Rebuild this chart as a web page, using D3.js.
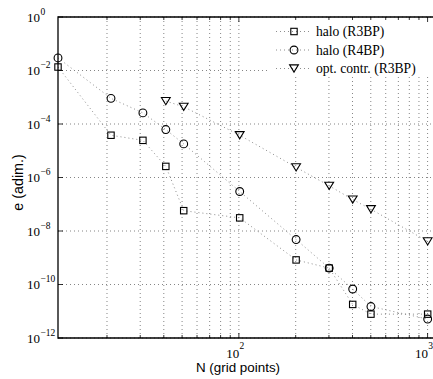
<!DOCTYPE html>
<html><head><meta charset="utf-8">
<script src="https://cdn.jsdelivr.net/npm/d3@7"></script>
<style>body{margin:0;background:#fff}svg{display:block}</style>
</head><body>
<svg id="c" width="433" height="379"></svg>
<script>
// ---- data ----
const nHalo = [11, 21, 31, 41, 51, 101, 201, 301, 401, 501, 1001];
const eHaloR3BP = [1.35e-2, 3.8e-5, 2.45e-5, 2.6e-6, 5.75e-8, 3.1e-8, 8.3e-10, 4.1e-10, 1.8e-11, 7.8e-12, 7.8e-12];
const eHaloR4BP = [2.95e-2, 9.1e-4, 2.6e-4, 6.2e-5, 1.8e-5, 3.0e-7, 4.8e-9, 4.1e-10, 6.8e-11, 1.5e-11, 5.1e-12];
const nOpt = [41, 51, 101, 201, 301, 401, 501, 1001];
const eOptR3BP = [7.2e-4, 4.4e-4, 3.8e-5, 2.4e-6, 4.9e-7, 1.5e-7, 6.5e-8, 4.1e-9];
const seriesNames = ["halo (R3BP)", "halo (R4BP)", "opt. contr. (R3BP)"];
const yTickExps = [0, -2, -4, -6, -8, -10, -12];
const xTickExps = [2, 3];
const xMinor = [20,30,40,50,60,70,80,90,200,300,400,500,600,700,800,900];
const xLabel = "N (grid points)";
const yLabel = "e (adim.)";

// ---- layout ----
const L = 58, T = 17, B = 338, R = 435.4;
const svg = d3.select("#c");
const x = d3.scaleLog().domain([11, 1100]).range([L, R]);
const y = d3.scaleLog().domain([1e-12, 1]).range([B, T]);

const gridColor = "#666";
const g = svg.append("g");
// grid
xMinor.concat(xTickExps.map(e => Math.pow(10, e))).forEach(v => {
  g.append("line").attr("x1", x(v)).attr("x2", x(v)).attr("y1", T).attr("y2", B)
   .attr("stroke", gridColor).attr("stroke-width", 0.8).attr("stroke-dasharray", "1,3");
});
yTickExps.forEach(e => {
  const v = Math.pow(10, e);
  g.append("line").attr("x1", L).attr("x2", R).attr("y1", y(v)).attr("y2", y(v))
   .attr("stroke", gridColor).attr("stroke-width", 0.8).attr("stroke-dasharray", "1,3");
});

// series
const series = [
  {n: nHalo, e: eHaloR3BP, m: "square"},
  {n: nHalo, e: eHaloR4BP, m: "circle"},
  {n: nOpt, e: eOptR3BP, m: "tri"}
];
function marker(sel, type, cx, cy) {
  if (type === "square") {
    sel.append("rect").attr("x", cx - 3.2).attr("y", cy - 3.2).attr("width", 6.4).attr("height", 6.4)
      .attr("fill", "none").attr("stroke", "#000").attr("stroke-width", 1.1);
  } else if (type === "circle") {
    sel.append("circle").attr("cx", cx).attr("cy", cy).attr("r", 3.9)
      .attr("fill", "none").attr("stroke", "#000").attr("stroke-width", 1.1);
  } else {
    sel.append("path").attr("d", `M${cx-4.4},${cy-3.6}L${cx+4.4},${cy-3.6}L${cx},${cy+3.6}Z`)
      .attr("fill", "none").attr("stroke", "#000").attr("stroke-width", 1.1);
  }
}
const line = d3.line().x(d => x(d[0])).y(d => y(d[1]));
series.forEach(s => {
  const pts = s.n.map((n, i) => [n, s.e[i]]);
  g.append("path").attr("d", line(pts)).attr("fill", "none")
   .attr("stroke", "#808080").attr("stroke-width", 0.9).attr("stroke-dasharray", "1,3");
});
series.forEach(s => {
  s.n.forEach((n, i) => marker(g, s.m, x(n), y(s.e[i])));
});

// legend
g.append("rect").attr("x", 268).attr("y", T + 1).attr("width", 163).attr("height", 59).attr("fill", "#fff");
const legY = [31.5, 50, 68.5];
series.forEach((s, i) => {
  g.append("line").attr("x1", 276).attr("x2", 312).attr("y1", legY[i]).attr("y2", legY[i])
   .attr("stroke", "#808080").attr("stroke-width", 0.9).attr("stroke-dasharray", "1,3");
  marker(g, s.m, 294, legY[i]);
  g.append("text").attr("x", 316).attr("y", legY[i] + 4.6).text(seriesNames[i])
   .attr("font-family", "Liberation Serif").attr("font-size", 13.6).attr("fill", "#000");
});

// axes box & ticks
g.append("path").attr("d", `M${R},${T}H${L}V${B}H${R}`).attr("fill", "none")
 .attr("stroke", "#000").attr("stroke-width", 1.3);
xMinor.forEach(v => {
  g.append("line").attr("x1", x(v)).attr("x2", x(v)).attr("y1", B).attr("y2", B - 3).attr("stroke", "#000").attr("stroke-width", 0.8);
  g.append("line").attr("x1", x(v)).attr("x2", x(v)).attr("y1", T).attr("y2", T + 3).attr("stroke", "#000").attr("stroke-width", 0.8);
});
xTickExps.forEach(e => {
  const v = Math.pow(10, e);
  g.append("line").attr("x1", x(v)).attr("x2", x(v)).attr("y1", B).attr("y2", B - 5).attr("stroke", "#000").attr("stroke-width", 0.8);
  g.append("line").attr("x1", x(v)).attr("x2", x(v)).attr("y1", T).attr("y2", T + 5).attr("stroke", "#000").attr("stroke-width", 0.8);
  g.append("text").attr("font-family", "Liberation Serif").attr("font-size", 13).attr("fill", "#000")
   .attr("x", x(v) + 0.3).attr("y", 358.3).attr("text-anchor", "end").text("10");
  g.append("text").attr("font-family", "Liberation Serif").attr("font-size", 9.5).attr("fill", "#000")
   .attr("x", x(v) + 0.7).attr("y", 348.5).text(String(e));
});
yTickExps.forEach(e => {
  const v = Math.pow(10, e);
  const yy = y(v);
  g.append("line").attr("x1", L).attr("x2", L + 5).attr("y1", yy).attr("y2", yy).attr("stroke", "#000").attr("stroke-width", 0.8);
  g.append("text").attr("font-family", "Liberation Serif").attr("font-size", 13).attr("fill", "#000")
   .attr("x", 40).attr("y", yy + 4.8).attr("text-anchor", "end").text("10");
  g.append("text").attr("font-family", "Liberation Serif").attr("font-size", 9.5).attr("fill", "#000")
   .attr("x", 40.5).attr("y", yy - 2.5).text(e === 0 ? "0" : "\u2212" + Math.abs(e));
});

// titles
g.append("text").attr("x", 238).attr("y", 372).attr("text-anchor", "middle")
 .attr("font-family", "Liberation Sans").attr("font-size", 13.4).attr("fill", "#000").text(xLabel);
g.append("text").attr("transform", "translate(23,182.5) rotate(-90)").attr("text-anchor", "middle")
 .attr("font-family", "Liberation Sans").attr("font-size", 14.3).attr("fill", "#000").text(yLabel);
</script>
</body></html>
